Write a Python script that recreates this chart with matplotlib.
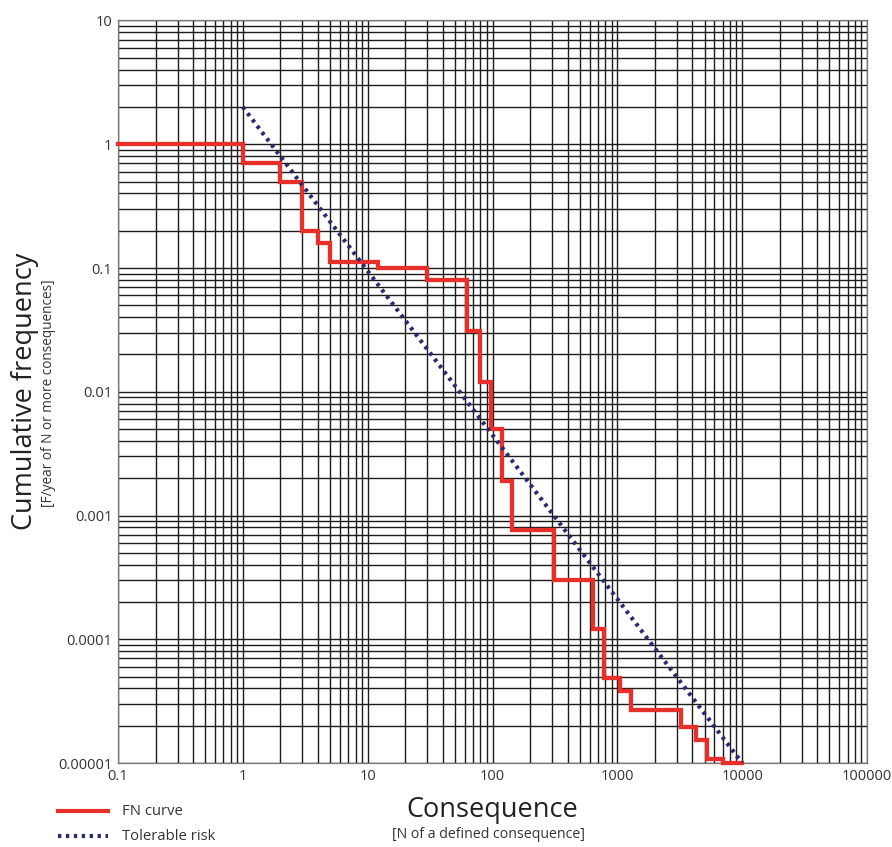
import matplotlib
matplotlib.use("Agg")
import matplotlib.pyplot as plt
from matplotlib.ticker import FixedLocator, FixedFormatter, LogLocator, NullFormatter
from matplotlib.lines import Line2D

plt.rcParams['font.family'] = ['Open Sans', 'DejaVu Sans']

# FN curve (step, drawn "post")
fn_n = [0.1, 1, 2, 3, 4, 5, 12, 30, 63, 80, 97, 120, 144, 310, 643, 782,
        1043, 1295, 3220, 4250, 5270, 7080, 10000]
fn_f = [1, 0.7, 0.5, 0.2, 0.16, 0.112, 0.1, 0.08, 0.031, 0.012, 0.005, 0.0019,
        0.00077, 0.0003, 0.000121, 0.000049, 0.000038, 0.000027, 0.0000194,
        0.0000153, 0.0000108, 0.00001, 0.00001]

# tolerable risk line
tol_n = [1, 10000]
tol_f = [2, 0.00001]

x_ticks = [0.1, 1, 10, 100, 1000, 10000, 100000]
x_labels = ["0.1", "1", "10", "100", "1000", "10000", "100000"]
y_ticks = [0.00001, 0.0001, 0.001, 0.01, 0.1, 1, 10]
y_labels = ["0.00001", "0.0001", "0.001", "0.01", "0.1", "1", "10"]

red = "#e8302a"
navy = "#2b2a6e"

fig = plt.figure(figsize=(8.92, 8.47), dpi=100)
ax = fig.add_axes([118 / 892, 84 / 847, 749 / 892, 742.5 / 847])
ax.set_xscale("log")
ax.set_yscale("log")
ax.set_xlim(0.1, 100000)
ax.set_ylim(0.00001, 10)

ax.xaxis.set_major_locator(FixedLocator(x_ticks))
ax.xaxis.set_major_formatter(FixedFormatter(x_labels))
ax.yaxis.set_major_locator(FixedLocator(y_ticks))
ax.yaxis.set_major_formatter(FixedFormatter(y_labels))
ax.xaxis.set_minor_locator(LogLocator(base=10, subs=range(2, 10), numticks=20))
ax.yaxis.set_minor_locator(LogLocator(base=10, subs=range(2, 10), numticks=20))
ax.xaxis.set_minor_formatter(NullFormatter())
ax.yaxis.set_minor_formatter(NullFormatter())
ax.tick_params(which="both", length=0, labelsize=10.5, labelcolor="#333333", pad=4)

ax.grid(which="both", color="#1c1c1c", lw=1.0)
ax.set_axisbelow(True)
for s in ax.spines.values():
    s.set_color("#777777")
    s.set_linewidth(0.9)

ax.step(fn_n, fn_f, where="post", color=red, lw=3.1, clip_on=False, zorder=3,
        solid_joinstyle="miter")
ax.plot(tol_n, tol_f, color=navy, lw=3, linestyle=(0, (0.8, 1.1)), zorder=4)

# axis titles
fig.text(492 / 892, 1 - 810 / 847, "Consequence", ha="center", va="center",
         fontsize=19.5, color="#222222")
fig.text(488 / 892, 1 - 834 / 847, "[N of a defined consequence]", ha="center",
         va="center", fontsize=10.2, color="#333333")
fig.text(25 / 892, 1 - 391 / 847, "Cumulative frequency", ha="center", va="center",
         rotation=90, fontsize=19.5, color="#222222")
fig.text(49 / 892, 1 - 393 / 847, "[F/year of N or more consequences]", ha="center",
         va="center", rotation=90, fontsize=9.8, color="#333333")

# legend
fig.add_artist(Line2D([58 / 892, 108 / 892], [1 - 811 / 847] * 2, color=red, lw=3))
fig.add_artist(Line2D([58 / 892, 108 / 892], [1 - 836 / 847] * 2, color=navy, lw=3,
                      linestyle=(0, (0.8, 1.1))))
fig.text(122 / 892, 1 - 811 / 847, "FN curve", ha="left", va="center", fontsize=10.7,
         color="#333333")
fig.text(122 / 892, 1 - 836 / 847, "Tolerable risk", ha="left", va="center",
         fontsize=10.7, color="#333333")

fig.savefig("out.png", dpi=100)
